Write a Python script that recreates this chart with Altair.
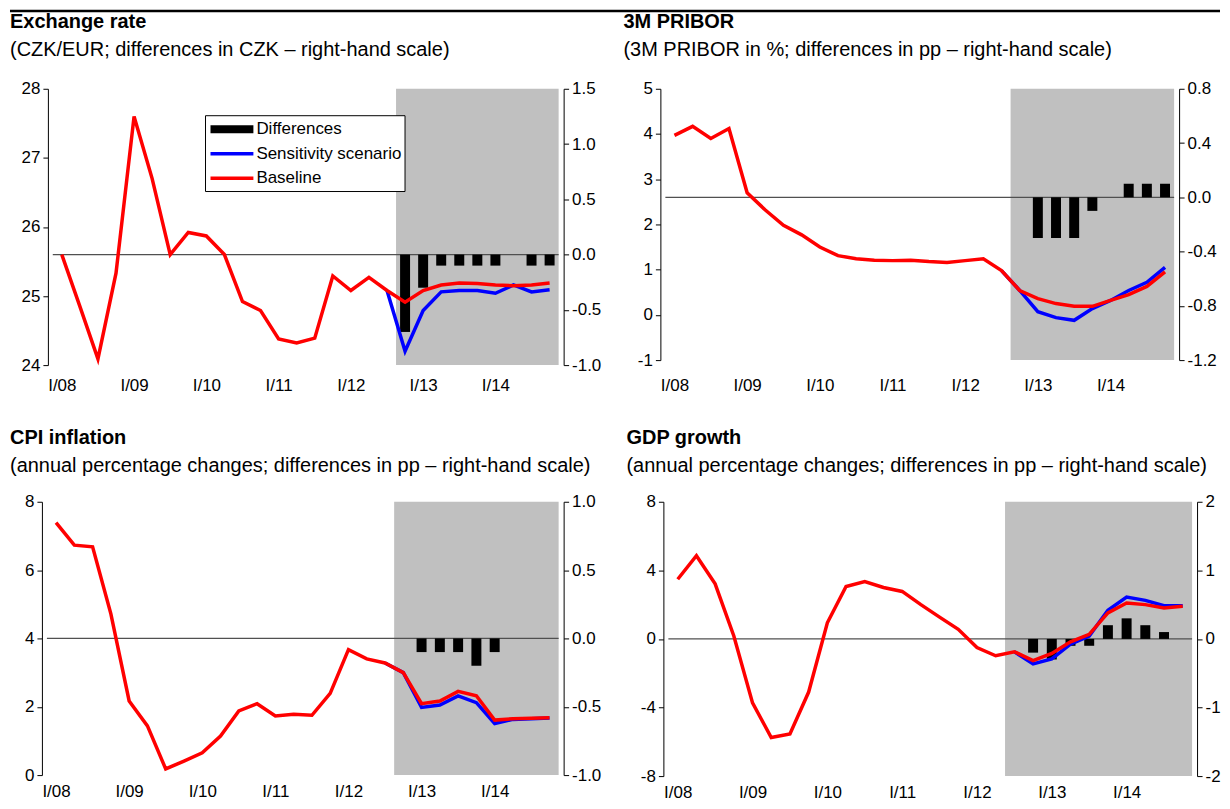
import altair as alt
import pandas as pd

FONT = "Liberation Sans"
N_Q = 28
QUARTER_IDX = list(range(N_Q))
TICK_IDX = [0, 4, 8, 12, 16, 20, 24]
TICK_LABELS = ["I/08", "I/09", "I/10", "I/11", "I/12", "I/13", "I/14"]

LEGEND_LABELS = ["Differences", "Sensitivity scenario", "Baseline"]
COL_DIFF = "#000000"
COL_SENS = "#0000FF"
COL_BASE = "#FF0000"
COL_SHADE = "#C0C0C0"

# ---- Exchange rate ----
er_base = [25.60, 24.85, 24.09, 25.33, 27.60, 26.70, 25.60, 25.92, 25.87, 25.60,
           24.92, 24.79, 24.38, 24.32, 24.39, 25.29, 25.08, 25.27, 25.08, 24.91,
           25.08, 25.16, 25.19, 25.18, 25.16, 25.15, 25.16, 25.19]
er_sens_start = 18
er_sens = [25.08, 24.20, 24.79, 25.06, 25.08, 25.08, 25.04, 25.16, 25.06, 25.09]
er_diff_start = 19
er_diff = [-0.7, -0.3, -0.1, -0.1, -0.1, -0.1, None, -0.1, -0.1]

# ---- 3M PRIBOR ----
pr_base = [3.97, 4.17, 3.90, 4.12, 2.70, 2.32, 1.98, 1.77, 1.50, 1.31,
           1.24, 1.21, 1.20, 1.21, 1.18, 1.16, 1.20, 1.24, 0.98, 0.54,
           0.36, 0.25, 0.19, 0.19, 0.32, 0.45, 0.63, 0.95]
pr_sens_start = 18
pr_sens = [0.98, 0.54, 0.07, -0.06, -0.12, 0.14, 0.32, 0.54, 0.72, 1.05]
pr_diff_start = 20
pr_diff = [-0.3, -0.3, -0.3, -0.1, None, 0.1, 0.1, 0.1]

# ---- CPI inflation ----
cpi_base = [7.39, 6.73, 6.68, 4.72, 2.17, 1.44, 0.18, 0.41, 0.65, 1.14,
            1.88, 2.09, 1.73, 1.78, 1.75, 2.39, 3.67, 3.40, 3.28, 3.00,
            2.09, 2.17, 2.45, 2.32, 1.61, 1.65, 1.66, 1.68]
cpi_sens_start = 18
cpi_sens = [3.28, 3.00, 1.98, 2.05, 2.32, 2.12, 1.51, 1.63, 1.65, 1.67]
cpi_diff_start = 20
cpi_diff = [-0.1, -0.1, -0.1, -0.2, -0.1]

# ---- GDP growth ----
gdp_base = [3.48, 4.85, 3.21, 0.17, -3.73, -5.75, -5.54, -3.10, 0.94, 3.06,
            3.35, 3.00, 2.77, 2.00, 1.27, 0.56, -0.50, -0.98, -0.75, -1.27,
            -0.85, -0.17, 0.27, 1.52, 2.10, 2.00, 1.81, 1.90]
gdp_sens_start = 18
gdp_sens = [-0.75, -1.46, -1.17, -0.31, 0.17, 1.67, 2.44, 2.25, 1.94, 1.94]
gdp_diff_start = 19
gdp_diff = [-0.2, -0.3, -0.1, -0.1, 0.2, 0.3, 0.2, 0.1]

MINUS_FIX = "replace(format(datum.value, '{fmt}'), '\u2212', '-')"
X_LABEL_EXPR = "[" + ",".join("'%s'" % t for t in TICK_LABELS) + "][datum.value / 4]"
ONE = pd.DataFrame({"k": [0]})
TICK_FONT = 17


def y_axis(orient, values, fmt, offset=0):
    return alt.Axis(orient=orient, values=values, labelExpr=MINUS_FIX.format(fmt=fmt),
                    grid=False, title=None, domainColor="black", domainWidth=1,
                    tickColor="black", tickSize=5, tickWidth=1, labelFontSize=TICK_FONT,
                    labelColor="black", labelFont=FONT, labelPadding=3, offset=offset)


def text_layer(txt, x, y, size, bold=False):
    return alt.Chart(ONE).mark_text(align="left", baseline="middle", fontSize=size,
                                    font=FONT, color="black",
                                    fontWeight="bold" if bold else "normal").encode(
        x=alt.value(x), y=alt.value(y), text=alt.value(txt))


def legend_layers(gap):
    layers = []
    box = alt.Chart(ONE).mark_rect(fill="white", stroke="black", strokeWidth=1).encode(
        x=alt.value(gap + 158), x2=alt.value(gap + 358), y=alt.value(27), y2=alt.value(103))
    layers.append(box)
    colors = [COL_DIFF, COL_SENS, COL_BASE]
    for i, (lab, col) in enumerate(zip(LEGEND_LABELS, colors)):
        yc = 40.5 + 24.6 * i
        if i == 0:
            sw = alt.Chart(ONE).mark_rect(color=col).encode(
                x=alt.value(gap + 163), x2=alt.value(gap + 206),
                y=alt.value(yc - 4), y2=alt.value(yc + 4))
        else:
            sw = alt.Chart(ONE).mark_rule(color=col, strokeWidth=3.5).encode(
                x=alt.value(gap + 163), x2=alt.value(gap + 206), y=alt.value(yc))
        layers += [sw, text_layer(lab, gap + 209, yc, 17)]
    return layers


def panel(title, subtitle, base, sens_start, sens, diff_start, diff, shade_start,
          ldom, lvals, lfmt, rdom, rvals, rfmt, width, height, title_dx, title_dy,
          label_pad, gap=0, legend=False, topline=None):
    base_df = pd.DataFrame({"idx": QUARTER_IDX, "value": base})
    sens_df = pd.DataFrame({"idx": list(range(sens_start, sens_start + len(sens))), "value": sens})
    diff_df = pd.DataFrame({"idx": list(range(diff_start, diff_start + len(diff))),
                            "value": diff}).dropna()

    lo = -0.5 - gap * N_Q / (width - gap)
    xscale = alt.Scale(domain=[lo, N_Q - 0.5], nice=False, zero=False)
    xaxis = alt.Axis(values=TICK_IDX, labelExpr=X_LABEL_EXPR, ticks=False, domain=False,
                     grid=False, title=None, labelPadding=label_pad, labelFontSize=TICK_FONT,
                     labelColor="black", labelFont=FONT, labelAngle=0)
    x = alt.X("idx:Q", scale=xscale, axis=xaxis)

    rscale = alt.Scale(domain=rdom, nice=False, zero=False)
    raxis = y_axis("right", rvals, rfmt)
    lscale = alt.Scale(domain=ldom, nice=False, zero=False)
    laxis = y_axis("left", lvals, lfmt, offset=-gap)

    shade = alt.Chart(ONE).mark_rect(color=COL_SHADE).encode(
        x=alt.XDatum(shade_start - 0.5, type="quantitative", scale=xscale, axis=xaxis),
        x2=alt.X2Datum(N_Q - 0.5),
        y=alt.YDatum(rdom[0], type="quantitative", scale=rscale, axis=raxis),
        y2=alt.Y2Datum(rdom[1]),
    )
    zero = alt.Chart(ONE).mark_rule(color="#505050", strokeWidth=1.2).encode(
        x=alt.XDatum(-0.5, type="quantitative", scale=xscale, axis=xaxis),
        x2=alt.X2Datum(N_Q - 0.5),
        y=alt.YDatum(0, type="quantitative", scale=rscale, axis=raxis))
    bars = alt.Chart(diff_df).mark_bar(color=COL_DIFF, size=10).encode(
        x=x, y=alt.Y("value:Q", scale=rscale, axis=raxis))
    right = alt.layer(shade, zero, bars)

    sens_line = alt.Chart(sens_df).mark_line(color=COL_SENS, strokeWidth=3.5).encode(
        x=x, y=alt.Y("value:Q", scale=lscale, axis=laxis))
    base_line = alt.Chart(base_df).mark_line(color=COL_BASE, strokeWidth=3.5).encode(
        x=x, y=alt.Y("value:Q", scale=lscale, axis=laxis))
    left_layers = [sens_line, base_line,
                   text_layer(title, title_dx, title_dy, 20, bold=True),
                   text_layer(subtitle, title_dx, title_dy + 28, 20)]
    if legend:
        left_layers += legend_layers(gap)
    if topline is not None:
        left_layers.append(alt.Chart(ONE).mark_rule(color="black", strokeWidth=2.5).encode(
            x=alt.value(title_dx), x2=alt.value(topline), y=alt.value(-78)))
    left = alt.layer(*left_layers)

    return alt.layer(right, left).resolve_scale(y="independent").properties(
        width=width, height=height)


p1 = panel("Exchange rate", "(CZK/EUR; differences in CZK \u2013 right-hand scale)",
           er_base, er_sens_start, er_sens, er_diff_start, er_diff, 19,
           [24, 28], [24, 25, 26, 27, 28], "d", [-1.0, 1.5], [-1.0, -0.5, 0.0, 0.5, 1.0, 1.5], ".1f",
           523, 277, -32, -67, 12, gap=6, legend=True, topline=1181)
p2 = panel("3M PRIBOR", "(3M PRIBOR in %; differences in pp \u2013 right-hand scale)",
           pr_base, pr_sens_start, pr_sens, pr_diff_start, pr_diff, 19,
           [-1, 5], [-1, 0, 1, 2, 3, 4, 5], "d", [-1.2, 0.8], [-1.2, -0.8, -0.4, 0.0, 0.4, 0.8], ".1f",
           520, 272, -37, -67, 17)
p3 = panel("CPI inflation", "(annual percentage changes; differences in pp \u2013 right-hand scale)",
           cpi_base, cpi_sens_start, cpi_sens, cpi_diff_start, cpi_diff, 19,
           [0, 8], [0, 2, 4, 6, 8], "d", [-1.0, 1.0], [-1.0, -0.5, 0.0, 0.5, 1.0], ".1f",
           523, 274, -32, -64, 8)
p4 = panel("GDP growth", "(annual percentage changes; differences in pp \u2013 right-hand scale)",
           gdp_base, gdp_sens_start, gdp_sens, gdp_diff_start, gdp_diff, 18,
           [-8, 8], [-8, -4, 0, 4, 8], "d", [-2, 2], [-2, -1, 0, 1, 2], "d",
           535, 275, -37, -64, 8)

row1 = alt.hconcat(p1, p2, spacing=97, bounds="flush")
row2 = alt.hconcat(p3, p4, spacing=100, bounds="flush")

chart = alt.vconcat(row1, row2, spacing=35).properties(padding=0).configure(
    font=FONT).configure_view(stroke=None)

chart.save("out.html", embed_options={"renderer": "svg", "actions": False})
